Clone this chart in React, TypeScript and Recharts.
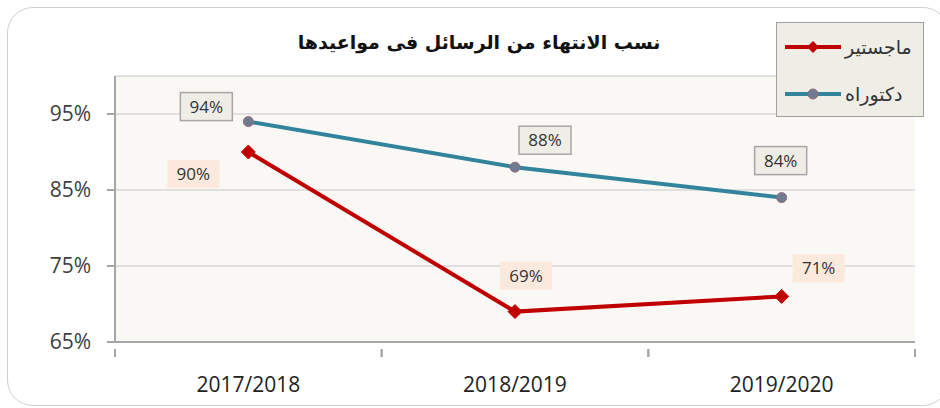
import React from 'react';
import {
  ComposedChart,
  Line,
  XAxis,
  YAxis,
  CartesianGrid,
  LabelList,
} from 'recharts';

const years = ['2017/2018', '2018/2019', '2019/2020'];
const masters = [90, 69, 71];
const doctorate = [94, 88, 84];
const yTicks = [65, 75, 85, 95];

const title = 'نسب الانتهاء من الرسائل فى مواعيدها';
const mastersName = 'ماجستير';
const doctorateName = 'دكتوراه';

const RED = '#C00000';
const BLUE = '#31849B';
const DOT = '#6F7B91';

// where each data label box sits relative to its point
const doctorateLabelOffsets = [
  [-42, -15],
  [30, -27],
  [-1, -37],
];
const mastersLabelOffsets = [
  [-55, 22],
  [11, -36],
  [37, -28],
];

const chartData = years.map((y, i) => ({
  year: y,
  masters: masters[i],
  doctorate: doctorate[i],
}));

const W = 940;
const H = 408;
const X_AXIS_H = 66;
const M = { top: 76, right: 25, bottom: 0, left: 0 };
const Y_AXIS_W = 115;
const plotW = W - M.right - Y_AXIS_W;
const halfBand = plotW / years.length / 2;

const font = '"Open Sans", "DejaVu Sans", sans-serif';

const XTick = (props: any) => {
  const { x, y, payload } = props;
  return (
    <g>
      <line x1={x - halfBand} y1={y - 1} x2={x - halfBand} y2={y + 7} stroke="#A6A6A6" strokeWidth={2} />
      <line x1={x + halfBand} y1={y - 1} x2={x + halfBand} y2={y + 7} stroke="#A6A6A6" strokeWidth={2} />
      <text x={x} y={y + 42} textAnchor="middle" fill="#222" fontSize={21} fontFamily={font}>
        {payload.value}
      </text>
    </g>
  );
};

const makeLabel = (offsets: number[][], fill: string, stroke: string) => (props: any) => {
  const { x, y, value, index } = props;
  const [dx, dy] = offsets[index];
  const cx = x + dx;
  const cy = y + dy;
  return (
    <g>
      <rect
        x={cx - 26}
        y={cy - 14}
        width={52}
        height={28}
        fill={fill}
        stroke={stroke}
        strokeWidth={stroke === 'none' ? 0 : 1.5}
      />
      <text
        x={cx}
        y={cy + 6}
        textAnchor="middle"
        fill="#333"
        fontSize={17}
        fontFamily={font}
      >
        {value}%
      </text>
    </g>
  );
};

const Diamond = (props: any) => {
  const { cx, cy } = props;
  if (cx == null || cy == null) return null;
  const s = 7;
  return (
    <polygon
      points={`${cx},${cy - s} ${cx + s},${cy} ${cx},${cy + s} ${cx - s},${cy}`}
      fill={RED}
      stroke={RED}
    />
  );
};

const LegendSwatch = ({ color, marker }: { color: string; marker: 'diamond' | 'circle' }) => (
  <svg width={60} height={14} style={{ display: 'block' }}>
    <line x1={2} y1={7} x2={58} y2={7} stroke={color} strokeWidth={4} />
    {marker === 'diamond' ? (
      <polygon points="30,1 36,7 30,13 24,7" fill={RED} />
    ) : (
      <circle cx={30} cy={7} r={5} fill={DOT} stroke="#9a6a80" strokeWidth={1} />
    )}
  </svg>
);

export default function App() {
  return (
    <div style={{ position: 'absolute', left: 0, top: 0, width: W, height: H, background: '#fff' }}>
      <div
        style={{
          position: 'absolute',
          left: 7,
          top: 7,
          width: 940,
          height: 397,
          border: '1.5px solid #D0D0D0',
          borderRadius: 26,
        }}
      />
      <div
        style={{
          position: 'absolute',
          left: 0,
          width: 958,
          top: 31,
          textAlign: 'center',
          fontFamily: '"DejaVu Sans", sans-serif',
          fontWeight: 'bold',
          fontSize: 19,
          color: '#111',
          direction: 'rtl',
        }}
      >
        {title}
      </div>
      <ComposedChart
        width={W}
        height={H}
        data={chartData}
        margin={M}
        style={{ position: 'absolute', left: 0, top: 0 }}
      >
        <CartesianGrid vertical={false} stroke="#D9D9D9" strokeWidth={1.5} fill="#FAF8F4" />
        <XAxis
          dataKey="year"
          scale="band"
          tickLine={false}
          axisLine={{ stroke: '#A6A6A6', strokeWidth: 2 }}
          tick={<XTick />}
          height={X_AXIS_H}
          interval={0}
        />
        <YAxis
          domain={[65, 100]}
          ticks={yTicks}
          width={Y_AXIS_W}
          tickFormatter={(v: number) => `${v}%`}
          tickSize={8}
          tickMargin={16}
          tickLine={{ stroke: '#A6A6A6', strokeWidth: 2 }}
          axisLine={{ stroke: '#A6A6A6', strokeWidth: 2 }}
          tick={{ fill: '#404040', fontSize: 21, fontFamily: font }}
          allowDataOverflow
        />
        <Line
          dataKey="doctorate"
          stroke={BLUE}
          strokeWidth={4}
          isAnimationActive={false}
          dot={{ r: 5, fill: DOT, stroke: '#9a6a80', strokeWidth: 1 }}
        >
          <LabelList dataKey="doctorate" content={makeLabel(doctorateLabelOffsets, '#EEEDE6', '#A6A6A6')} />
        </Line>
        <Line
          dataKey="masters"
          stroke={RED}
          strokeWidth={4}
          isAnimationActive={false}
          dot={<Diamond />}
        >
          <LabelList dataKey="masters" content={makeLabel(mastersLabelOffsets, '#FCE9DD', 'none')} />
        </Line>
      </ComposedChart>
      <div
        style={{
          position: 'absolute',
          left: 776,
          top: 22,
          width: 148,
          height: 95,
          background: '#EEEDE6',
          border: '1.5px solid #A0A0A0',
          boxSizing: 'border-box',
          fontFamily: '"DejaVu Sans", sans-serif',
          fontSize: 19,
          color: '#333',
        }}
      >
        <div style={{ position: 'absolute', left: 6, top: 13, display: 'flex', alignItems: 'center' }}>
          <LegendSwatch color={RED} marker="diamond" />
          <span style={{ marginLeft: 2, direction: 'rtl' }}>{mastersName}</span>
        </div>
        <div style={{ position: 'absolute', left: 6, top: 60, display: 'flex', alignItems: 'center' }}>
          <LegendSwatch color={BLUE} marker="circle" />
          <span style={{ marginLeft: 2, direction: 'rtl' }}>{doctorateName}</span>
        </div>
      </div>
    </div>
  );
}
